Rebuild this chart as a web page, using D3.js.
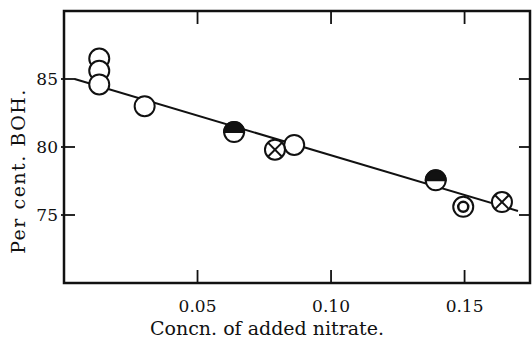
<!DOCTYPE html>
<html>
<head>
<meta charset="utf-8">
<script src="https://cdn.jsdelivr.net/npm/d3@7"></script>
<style>
  body { margin: 0; background: #fff; }
  svg text { font-family: "DejaVu Serif", "Liberation Serif", serif; fill: #111; }
</style>
</head>
<body>
<div id="chart"></div>
<script>
// values
const openX = [0.0132, 0.0132, 0.0132, 0.0302, 0.0862];
const openY = [86.5, 85.6, 84.6, 83.0, 80.15];
const halfX = [0.0637, 0.1392];
const halfY = [81.1, 77.55];
const crossX = [0.0790, 0.1640];
const crossY = [79.8, 75.95];
const ringX = [0.1495];
const ringY = [75.6];
const lineX = [0.004, 0.170];
const lineY = [85.0, 75.3];
const xTicks = [0.05, 0.10, 0.15];
const yTicks = [75, 80, 85];

drawChart();

function drawChart() {
    const W = 532, H = 342;
    const left = 64, right = 530, top = 11, bottom = 283;

    const x = d3.scaleLinear().domain([0, 0.1745]).range([left, right]);
    const y = d3.scaleLinear().domain([70, 90]).range([bottom, top]);

    const svg = d3.select("#chart").append("svg")
        .attr("width", W).attr("height", H);

    // frame
    svg.append("rect")
        .attr("x", left).attr("y", top)
        .attr("width", right - left).attr("height", bottom - top)
        .attr("fill", "none").attr("stroke", "#111").attr("stroke-width", 2.5);

    // inward ticks on all four sides
    const tk = svg.append("g").attr("stroke", "#111").attr("stroke-width", 1.8);
    xTicks.forEach(function(t) {
        tk.append("line").attr("x1", x(t)).attr("x2", x(t)).attr("y1", bottom).attr("y2", bottom - 13);
        tk.append("line").attr("x1", x(t)).attr("x2", x(t)).attr("y1", top).attr("y2", top + 13);
    });
    yTicks.forEach(function(t) {
        tk.append("line").attr("x1", left - 3).attr("x2", left + 11).attr("y1", y(t)).attr("y2", y(t));
        tk.append("line").attr("x1", right).attr("x2", right - 11).attr("y1", y(t)).attr("y2", y(t));
    });

    // tick labels
    svg.selectAll(".xlab").data(xTicks).enter().append("text")
        .attr("x", function(d) { return x(d); })
        .attr("y", 312)
        .attr("text-anchor", "middle")
        .attr("font-size", 17)
        .text(function(d) { return d3.format(".2f")(d); });
    svg.selectAll(".ylab").data(yTicks).enter().append("text")
        .attr("x", 58)
        .attr("y", function(d) { return y(d) + 6; })
        .attr("text-anchor", "end")
        .attr("font-size", 17)
        .text(function(d) { return d; });

    // axis titles
    svg.append("text")
        .attr("x", 267).attr("y", 335)
        .attr("text-anchor", "middle")
        .attr("font-size", 19)
        .text("Concn. of added nitrate.");
    svg.append("text")
        .attr("transform", "translate(25,171) rotate(-90)")
        .attr("text-anchor", "middle")
        .attr("font-size", 19)
        .attr("letter-spacing", 1.5)
        .text("Per cent. BOH.");

    // fitted line
    svg.append("path")
        .datum(d3.zip(lineX, lineY))
        .attr("d", d3.line().x(function(d) { return x(d[0]); }).y(function(d) { return y(d[1]); }))
        .attr("fill", "none").attr("stroke", "#111").attr("stroke-width", 2);

    const r = 10;
    const pts = svg.append("g").attr("stroke", "#111").attr("stroke-width", 2);

    function circle(cx, cy) {
        pts.append("circle").attr("cx", cx).attr("cy", cy).attr("r", r).attr("fill", "#fff");
    }

    d3.zip(openX, openY).forEach(function(d) { circle(x(d[0]), y(d[1])); });

    d3.zip(halfX, halfY).forEach(function(d) {
        const cx = x(d[0]), cy = y(d[1]);
        circle(cx, cy);
        pts.append("path")
            .attr("d", "M" + (cx - r) + "," + cy + " A" + r + "," + r + " 0 0 1 " + (cx + r) + "," + cy + " Z")
            .attr("fill", "#111");
    });

    d3.zip(crossX, crossY).forEach(function(d) {
        const cx = x(d[0]), cy = y(d[1]);
        const k = r * 0.707;
        circle(cx, cy);
        pts.append("line").attr("x1", cx - k).attr("y1", cy - k).attr("x2", cx + k).attr("y2", cy + k);
        pts.append("line").attr("x1", cx - k).attr("y1", cy + k).attr("x2", cx + k).attr("y2", cy - k);
    });

    d3.zip(ringX, ringY).forEach(function(d) {
        const cx = x(d[0]), cy = y(d[1]);
        circle(cx, cy);
        pts.append("circle").attr("cx", cx).attr("cy", cy).attr("r", 5).attr("fill", "none").attr("stroke-width", 2.5);
    });
}
</script>
</body>
</html>
